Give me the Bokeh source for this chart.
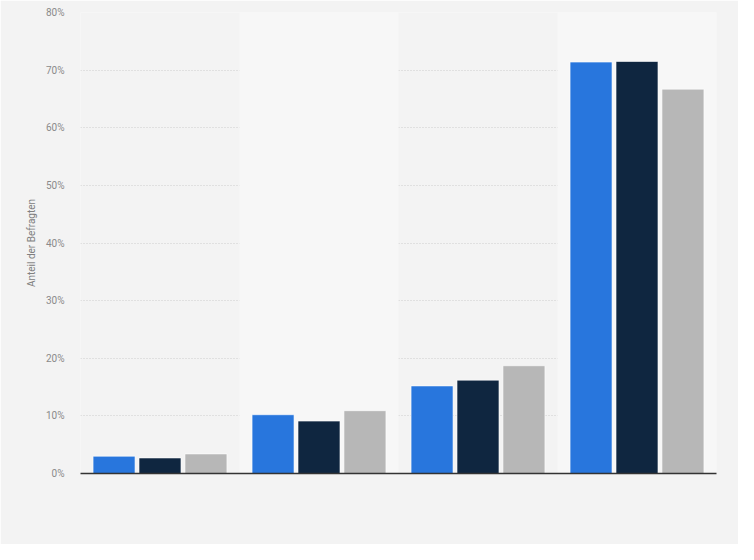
from bokeh.plotting import figure
from bokeh.models import ColumnDataSource, Range1d, FixedTicker, CustomJSTickFormatter
from bokeh.transform import dodge
from bokeh.embed import file_html
from bokeh.resources import INLINE

groups = [0, 1, 2, 3]
series_a = [3.0, 10.2, 15.2, 71.4]
series_b = [2.7, 9.1, 16.2, 71.5]
series_c = [3.4, 10.9, 18.7, 66.7]
colors = ["#2876dd", "#0f2640", "#b7b7b7"]
y_ticks = [0, 10, 20, 30, 40, 50, 60, 70, 80]

src = ColumnDataSource(dict(x=groups, a=series_a, b=series_b, c=series_c))

p = figure(width=738, height=544, output_backend="svg", toolbar_location=None,
           x_range=Range1d(-0.5, 3.5), y_range=Range1d(0, 80),
           min_border_left=80, min_border_right=22, min_border_top=12, min_border_bottom=71)
p.background_fill_color = "#f3f3f3"
p.border_fill_color = "#f3f3f3"
p.outline_line_color = None

# alternating background bands
p.quad(left=[0.5, 2.5], right=[1.5, 3.5], bottom=[-10, -10], top=[90, 90],
       fill_color="#f7f7f7", line_color=None)

w = 0.264
off = 0.289
for key, o, c in zip(["a", "b", "c"], [-off, 0, off], colors):
    p.vbar(x=dodge("x", o), top=key, width=w, source=src, fill_color=c,
           line_color="white", line_alpha=0.6, line_width=1)

p.xaxis.ticker = FixedTicker(ticks=[])
p.xaxis.major_tick_line_color = None
p.xaxis.minor_tick_line_color = None
p.xaxis.axis_line_color = "#333333"
p.xaxis.axis_line_width = 1.5
p.xgrid.visible = False

p.yaxis.ticker = FixedTicker(ticks=y_ticks)
p.yaxis.formatter = CustomJSTickFormatter(code="return tick + '%';")
p.yaxis.axis_line_color = None
p.yaxis.major_tick_line_color = None
p.yaxis.minor_tick_line_color = None
p.yaxis.major_label_text_font = "Roboto"
p.yaxis.major_label_text_font_size = "10px"
p.yaxis.major_label_text_color = "#8a8a8a"
p.yaxis.major_label_standoff = 10
p.yaxis.axis_label = "Anteil der Befragten"
p.yaxis.axis_label_text_font = "Roboto"
p.yaxis.axis_label_text_font_style = "normal"
p.yaxis.axis_label_text_font_size = "10px"
p.yaxis.axis_label_text_color = "#808080"
p.yaxis.axis_label_standoff = 6
p.ygrid.grid_line_color = "#cccccc"
p.ygrid.grid_line_dash = "1 2"
p.ygrid.grid_line_width = 1

html = file_html(p, INLINE)
html = html.replace("<body>", '<body style="background:#f3f3f3">', 1)
open("out.html", "w").write(html)
